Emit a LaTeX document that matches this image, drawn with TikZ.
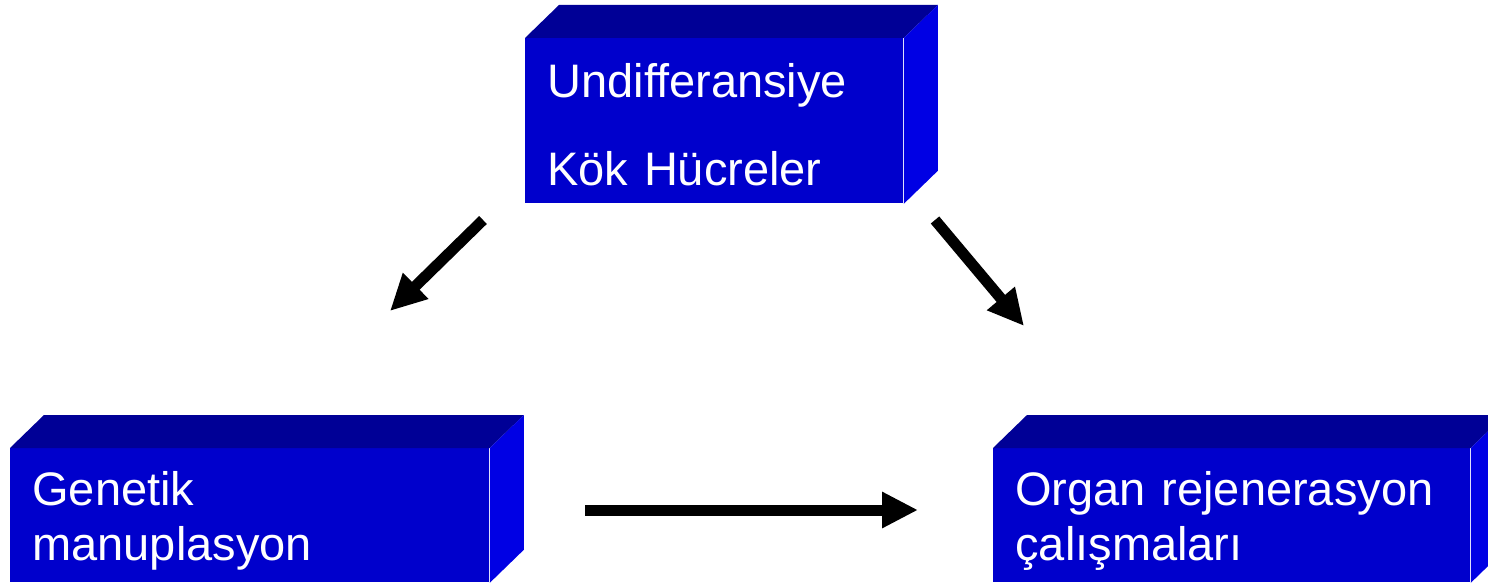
\documentclass[tikz,border=0pt]{standalone}
\usepackage{fontspec}
\setmainfont{Liberation Sans}
\usetikzlibrary{arrows.meta}
\definecolor{onmavi}{RGB}{0,0,204}
\definecolor{ustmavi}{RGB}{0,0,150}
\definecolor{yanmavi}{RGB}{0,0,228}
\def\derin{34,-33}
\def\ustyan#1{%
  \fill[ustmavi] (#1.north west) -- ([shift={(\derin)}]#1.north west) -- ([shift={(\derin)}]#1.north east) -- (#1.north east) -- cycle;
  \fill[yanmavi] (#1.north east) -- ([shift={(\derin)}]#1.north east) -- ([shift={(\derin)}]#1.south east) -- (#1.south east) -- cycle;}

\begin{document}
\begin{tikzpicture}[x=0.5pt,y=-0.5pt,
    kutu/.style={fill=onmavi, text=white, anchor=north west, align=left,
      inner xsep=11pt, inner ysep=0pt, text height=17pt},
    ok/.style={line width=5.5pt, -{Triangle[length=18pt,width=17pt]}}]
  \useasboundingbox (0,0) rectangle (1488,583);
  \clip (0,0) rectangle (1488,583);
  % kutular
  \node[kutu, text width=167pt, minimum height=82.5pt, text depth=40.5pt,
    font=\fontsize{23.5}{44}\selectfont] (kok) at (525,38) {Undifferansiye\\Kök Hücreler};
  \node[kutu, text width=217.5pt, minimum height=67pt, text depth=27pt,
    font=\fontsize{23.5}{27.5}\selectfont] (gen) at (10,448) {Genetik\\manuplasyon};
  \node[kutu, text width=216.5pt, minimum height=67pt, text depth=27pt,
    font=\fontsize{23.5}{27.5}\selectfont] (org) at (993,448) {Organ rejenerasyon\\çalışmaları};
  \ustyan{kok}
  \ustyan{gen}
  \ustyan{org}
  % oklar
  \coordinate (k1) at (483,220);
  \coordinate (g1) at (390,311);
  \coordinate (k2) at (935,220);
  \coordinate (o1) at (1024,326);
  \coordinate (g2) at (585,510);
  \coordinate (o2) at (918,510);
  \draw[ok] (k1) -- (g1);
  \draw[ok] (k2) -- (o1);
  \draw[ok] (g2) -- (o2);
\end{tikzpicture}
\end{document}
